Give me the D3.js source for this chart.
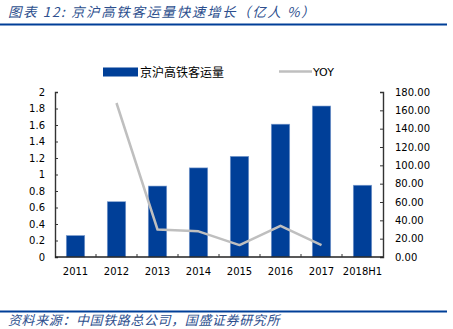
<!DOCTYPE html>
<html>
<head>
<meta charset="utf-8">
<script src="https://cdn.jsdelivr.net/npm/d3@7"></script>
<style>
  body { margin: 0; background: #fff; }
  svg { display: block; }
</style>
</head>
<body>
<svg id="chart" width="453" height="329"></svg>
<script>
// data
const categories = ['2011', '2012', '2013', '2014', '2015', '2016', '2017', '2018H1'];
const passengers = [0.26, 0.67, 0.86, 1.08, 1.22, 1.61, 1.83, 0.87];   // 亿人
const yoy = [null, 168, 30, 28, 13, 34, 13, null];                        // %
const leftTicks = [0, 0.2, 0.4, 0.6, 0.8, 1, 1.2, 1.4, 1.6, 1.8, 2];
const rightTicks = [0, 20, 40, 60, 80, 100, 120, 140, 160, 180];

const svg = d3.select('#chart');
const margin = {top: 92, left: 55, right: 70, bottom: 72};
const W = 453, H = 329;
const cjk = '"Noto Sans CJK SC", sans-serif';
const num = '"DejaVu Sans", sans-serif';
const blue = '#003f98';

// title + rules
svg.append('text')
  .attr('x', 8).attr('y', 17)
  .attr('font-family', cjk).attr('font-size', 13.5).attr('font-style', 'italic')
  .attr('letter-spacing', 1.6)
  .attr('fill', '#2d4f8e')
  .text('图表 12:  京沪高铁客运量快速增长（亿人 %）');
svg.append('rect').attr('x', 0).attr('y', 23.5).attr('width', 447).attr('height', 2).attr('fill', blue);
svg.append('rect').attr('x', 0).attr('y', 310.5).attr('width', 447).attr('height', 2).attr('fill', blue);
svg.append('text')
  .attr('x', 8).attr('y', 325)
  .attr('font-family', cjk).attr('font-size', 13).attr('font-style', 'italic')
  .attr('letter-spacing', 0.6)
  .attr('fill', '#2d4f8e')
  .text('资料来源：中国铁路总公司，国盛证券研究所');

const x = d3.scaleBand()
  .domain(categories)
  .range([margin.left, W - margin.right])
  .paddingInner(0.55).paddingOuter(0.275);
const yL = d3.scaleLinear().domain([0, 2]).range([H - margin.bottom, margin.top]);
const yR = d3.scaleLinear().domain([0, 180]).range([H - margin.bottom, margin.top]);

// bars
svg.append('g').selectAll('rect')
  .data(passengers)
  .join('rect')
  .attr('x', (d, i) => x(categories[i]))
  .attr('y', d => yL(d))
  .attr('width', x.bandwidth())
  .attr('height', d => yL(0) - yL(d))
  .attr('fill', blue)
  .attr('stroke', '#7f9fcf').attr('stroke-width', 0.6);

// YOY line
const line = d3.line()
  .defined(d => d != null)
  .x((d, i) => x(categories[i]) + x.bandwidth() / 2)
  .y(d => yR(d));
svg.append('path')
  .datum(yoy)
  .attr('d', line)
  .attr('fill', 'none')
  .attr('stroke', '#bfbfbf')
  .attr('stroke-width', 2.5)
  .attr('stroke-linejoin', 'round');

// left axis
const axL = svg.append('g').attr('transform', `translate(${margin.left},0)`)
  .call(d3.axisLeft(yL).tickValues(leftTicks).tickSize(-3).tickPadding(10).tickFormat(d => d3.format('')(d)));
// right axis
const axR = svg.append('g').attr('transform', `translate(${W - margin.right},0)`)
  .call(d3.axisRight(yR).tickValues(rightTicks).tickSize(-3).tickPadding(12).tickFormat(d3.format('.2f')));
[axL, axR].forEach(g => {
  g.select('.domain').attr('stroke', '#333').attr('stroke-width', 1.4);
  g.selectAll('.tick line').attr('stroke', '#333').attr('stroke-width', 1);
  g.selectAll('.tick text').attr('font-family', num).attr('font-size', 10).attr('fill', '#000');
});

// bottom axis: baseline, boundary ticks, labels
const base = yL(0);
svg.append('line')
  .attr('x1', x.range()[0]).attr('x2', x.range()[1])
  .attr('y1', base).attr('y2', base)
  .attr('stroke', '#222').attr('stroke-width', 1.6);
const bounds = categories.map(c => x(c) + x.bandwidth() / 2 - x.step() / 2).slice(1);
svg.append('g').selectAll('line')
  .data(bounds)
  .join('line')
  .attr('x1', d => d).attr('x2', d => d)
  .attr('y1', base).attr('y2', base - 3)
  .attr('stroke', '#333');
svg.append('g').selectAll('text')
  .data(categories)
  .join('text')
  .attr('x', d => x(d) + x.bandwidth() / 2)
  .attr('y', base + 18)
  .attr('text-anchor', 'middle')
  .attr('font-family', num).attr('font-size', 10)
  .text(d => d);

// legend
const lg = svg.append('g');
lg.append('rect').attr('x', 103).attr('y', 67.5).attr('width', 35).attr('height', 9).attr('fill', blue);
lg.append('text').attr('x', 140).attr('y', 76.5)
  .attr('font-family', cjk).attr('font-size', 12).text('京沪高铁客运量');
lg.append('line').attr('x1', 279).attr('x2', 312).attr('y1', 71.5).attr('y2', 71.5)
  .attr('stroke', '#bfbfbf').attr('stroke-width', 2.5);
lg.append('text').attr('x', 313).attr('y', 76)
  .attr('font-family', num).attr('font-size', 11).text('YOY');
</script>
</body>
</html>
